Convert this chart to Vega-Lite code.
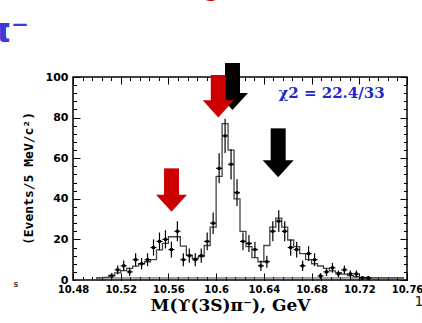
{
  "$schema": "https://vega.github.io/schema/vega-lite/v6.json",
  "width": 334,
  "height": 203,
  "autosize": {"type": "none"},
  "padding": {"left": 73, "top": 77, "right": 15, "bottom": 43},
  "background": "white",
  "config": {
    "view": {"stroke": "black", "strokeWidth": 1.5},
    "axis": {"grid": false, "domain": false, "tickColor": "black", "labelColor": "black", "titleColor": "black", "tickWidth": 1}
  },
  "datasets": {
    "fit": [
      {"m": 10.4825, "fit": 0, "bg": 0}, {"m": 10.4875, "fit": 0, "bg": 0}, {"m": 10.4925, "fit": 0, "bg": 0}, {"m": 10.4975, "fit": 0, "bg": 0},
      {"m": 10.5025, "fit": 1, "bg": 1}, {"m": 10.5075, "fit": 1.3, "bg": 1}, {"m": 10.5125, "fit": 2.3, "bg": 1}, {"m": 10.5175, "fit": 3.5, "bg": 1},
      {"m": 10.5225, "fit": 4.6, "bg": 1}, {"m": 10.5275, "fit": 5.7, "bg": 1}, {"m": 10.5325, "fit": 6.8, "bg": 1}, {"m": 10.5375, "fit": 8, "bg": 1},
      {"m": 10.5425, "fit": 9, "bg": 1}, {"m": 10.5475, "fit": 10, "bg": 1}, {"m": 10.5525, "fit": 14.8, "bg": 1}, {"m": 10.5575, "fit": 18, "bg": 1},
      {"m": 10.5625, "fit": 21.3, "bg": 1}, {"m": 10.5675, "fit": 21.3, "bg": 1}, {"m": 10.5725, "fit": 16.7, "bg": 1}, {"m": 10.5775, "fit": 12.3, "bg": 1},
      {"m": 10.5825, "fit": 10.7, "bg": 1}, {"m": 10.5875, "fit": 11.5, "bg": 1}, {"m": 10.5925, "fit": 17, "bg": 1}, {"m": 10.5975, "fit": 26, "bg": 1},
      {"m": 10.6025, "fit": 51, "bg": 1}, {"m": 10.6075, "fit": 77, "bg": 1}, {"m": 10.6125, "fit": 64, "bg": 1}, {"m": 10.6175, "fit": 40, "bg": 1},
      {"m": 10.6225, "fit": 24, "bg": 1}, {"m": 10.6275, "fit": 16.4, "bg": 1}, {"m": 10.6325, "fit": 11, "bg": 1}, {"m": 10.6375, "fit": 9, "bg": 1},
      {"m": 10.6425, "fit": 17, "bg": 1}, {"m": 10.6475, "fit": 26, "bg": 1}, {"m": 10.6525, "fit": 30.5, "bg": 1}, {"m": 10.6575, "fit": 26, "bg": 1},
      {"m": 10.6625, "fit": 19.7, "bg": 1}, {"m": 10.6675, "fit": 16.4, "bg": 1}, {"m": 10.6725, "fit": 13, "bg": 1}, {"m": 10.6775, "fit": 10, "bg": 1},
      {"m": 10.6825, "fit": 8, "bg": 1}, {"m": 10.6875, "fit": 6.9, "bg": 1}, {"m": 10.6925, "fit": 5.7, "bg": 1}, {"m": 10.6975, "fit": 4.5, "bg": 1},
      {"m": 10.7025, "fit": 3.6, "bg": 1}, {"m": 10.7075, "fit": 2.9, "bg": 1}, {"m": 10.7125, "fit": 2.2, "bg": 1}, {"m": 10.7175, "fit": 1.7, "bg": 1},
      {"m": 10.7225, "fit": 1.3, "bg": 1}, {"m": 10.7275, "fit": 1.1, "bg": 1}, {"m": 10.7325, "fit": 1, "bg": 1}, {"m": 10.7375, "fit": 1, "bg": 1},
      {"m": 10.7425, "fit": 1, "bg": 1}, {"m": 10.7475, "fit": 1, "bg": 1}, {"m": 10.7525, "fit": 1, "bg": 1}, {"m": 10.7575, "fit": 1, "bg": 1}
    ],
    "pts": [
      {"m": 10.5125, "m0": 10.51, "m1": 10.515, "n": 2, "lo": 0.6, "hi": 3.4},
      {"m": 10.5175, "m0": 10.515, "m1": 10.52, "n": 5, "lo": 2.8, "hi": 7.2},
      {"m": 10.5225, "m0": 10.52, "m1": 10.525, "n": 7, "lo": 4.4, "hi": 9.6},
      {"m": 10.5275, "m0": 10.525, "m1": 10.53, "n": 4, "lo": 2, "hi": 6},
      {"m": 10.5325, "m0": 10.53, "m1": 10.535, "n": 10, "lo": 6.8, "hi": 13.2},
      {"m": 10.5375, "m0": 10.535, "m1": 10.54, "n": 8, "lo": 5.2, "hi": 10.8},
      {"m": 10.5425, "m0": 10.54, "m1": 10.545, "n": 10, "lo": 6.8, "hi": 13.2},
      {"m": 10.5475, "m0": 10.545, "m1": 10.55, "n": 16, "lo": 12, "hi": 20},
      {"m": 10.5525, "m0": 10.55, "m1": 10.555, "n": 19, "lo": 14.6, "hi": 23.4},
      {"m": 10.5575, "m0": 10.555, "m1": 10.56, "n": 20, "lo": 15.5, "hi": 24.5},
      {"m": 10.5625, "m0": 10.56, "m1": 10.565, "n": 15, "lo": 11.1, "hi": 18.9},
      {"m": 10.5675, "m0": 10.565, "m1": 10.57, "n": 24, "lo": 19.1, "hi": 28.9},
      {"m": 10.5725, "m0": 10.57, "m1": 10.575, "n": 10, "lo": 6.8, "hi": 13.2},
      {"m": 10.5775, "m0": 10.575, "m1": 10.58, "n": 12, "lo": 8.5, "hi": 15.5},
      {"m": 10.5825, "m0": 10.58, "m1": 10.585, "n": 10, "lo": 6.8, "hi": 13.2},
      {"m": 10.5875, "m0": 10.585, "m1": 10.59, "n": 12, "lo": 8.5, "hi": 15.5},
      {"m": 10.5925, "m0": 10.59, "m1": 10.595, "n": 19, "lo": 14.6, "hi": 23.4},
      {"m": 10.5975, "m0": 10.595, "m1": 10.6, "n": 28, "lo": 22.7, "hi": 33.3},
      {"m": 10.6025, "m0": 10.6, "m1": 10.605, "n": 55, "lo": 47.6, "hi": 62.4},
      {"m": 10.6075, "m0": 10.605, "m1": 10.61, "n": 71, "lo": 62.6, "hi": 79.4},
      {"m": 10.6125, "m0": 10.61, "m1": 10.615, "n": 57, "lo": 49.5, "hi": 64.5},
      {"m": 10.6175, "m0": 10.615, "m1": 10.62, "n": 43, "lo": 36.4, "hi": 49.6},
      {"m": 10.6225, "m0": 10.62, "m1": 10.625, "n": 19, "lo": 14.6, "hi": 23.4},
      {"m": 10.6275, "m0": 10.625, "m1": 10.63, "n": 18, "lo": 13.8, "hi": 22.2},
      {"m": 10.6325, "m0": 10.63, "m1": 10.635, "n": 15, "lo": 11.1, "hi": 18.9},
      {"m": 10.6375, "m0": 10.635, "m1": 10.64, "n": 7, "lo": 4.4, "hi": 9.6},
      {"m": 10.6425, "m0": 10.64, "m1": 10.645, "n": 9, "lo": 6, "hi": 12},
      {"m": 10.6475, "m0": 10.645, "m1": 10.65, "n": 24, "lo": 19.1, "hi": 28.9},
      {"m": 10.6525, "m0": 10.65, "m1": 10.655, "n": 29, "lo": 23.6, "hi": 34.4},
      {"m": 10.6575, "m0": 10.655, "m1": 10.66, "n": 24, "lo": 19.1, "hi": 28.9},
      {"m": 10.6625, "m0": 10.66, "m1": 10.665, "n": 16, "lo": 12, "hi": 20},
      {"m": 10.6675, "m0": 10.665, "m1": 10.67, "n": 15, "lo": 11.1, "hi": 18.9},
      {"m": 10.6725, "m0": 10.67, "m1": 10.675, "n": 7, "lo": 4.4, "hi": 9.6},
      {"m": 10.6775, "m0": 10.675, "m1": 10.68, "n": 13, "lo": 9.4, "hi": 16.6},
      {"m": 10.6825, "m0": 10.68, "m1": 10.685, "n": 10, "lo": 6.8, "hi": 13.2},
      {"m": 10.6875, "m0": 10.685, "m1": 10.69, "n": 2, "lo": 0.6, "hi": 3.4},
      {"m": 10.6925, "m0": 10.69, "m1": 10.695, "n": 4, "lo": 2, "hi": 6},
      {"m": 10.6975, "m0": 10.695, "m1": 10.7, "n": 6, "lo": 3.6, "hi": 8.4},
      {"m": 10.7025, "m0": 10.7, "m1": 10.705, "n": 3, "lo": 1.3, "hi": 4.7},
      {"m": 10.7075, "m0": 10.705, "m1": 10.71, "n": 5, "lo": 2.8, "hi": 7.2},
      {"m": 10.7125, "m0": 10.71, "m1": 10.715, "n": 3, "lo": 1.3, "hi": 4.7},
      {"m": 10.7175, "m0": 10.715, "m1": 10.72, "n": 3, "lo": 1.3, "hi": 4.7},
      {"m": 10.7225, "m0": 10.72, "m1": 10.725, "n": 1, "lo": 0, "hi": 2},
      {"m": 10.7275, "m0": 10.725, "m1": 10.73, "n": 1, "lo": 0, "hi": 2}
    ],
    "arrows": [
      {"g": "black", "m": 10.6137, "top": 106.9, "hd": 89, "tip": 83.7},
      {"g": "black", "m": 10.652, "top": 74.7, "hd": 56.3, "tip": 50.6},
      {"g": "red", "m": 10.5626, "top": 55, "hd": 40, "tip": 33.6},
      {"g": "red", "m": 10.6018, "top": 101, "hd": 86, "tip": 80.1}
    ],
    "chi": [{"m": 10.6967, "v": 92, "t": "χ2 = 22.4/33"}],
    "pi": [{"m": 10.4431, "v": 122, "t": "π⁻"}],
    "page": [{"m": 10.77, "v": -11, "t": "1"}],
    "frag": [{"m": 10.4322, "v": -2.5, "t": "s"}],
    "topred": [
      {"m": 10.5726, "v": 139.2, "t": "("},
      {"m": 10.5965, "v": 139.2, "t": "g"},
      {"m": 10.633, "v": 139.2, "t": ")"}
    ]
  },
  "resolve": {"axis": {"x": "independent", "y": "independent"}},
  "layer": [
    {
      "data": {"name": "fit"},
      "mark": {"type": "line", "interpolate": "step", "color": "#444444", "strokeWidth": 1.3},
      "encoding": {
        "x": {"field": "m", "type": "quantitative",
          "scale": {"domain": [10.48, 10.76], "nice": false, "zero": false},
          "axis": {"orient": "bottom", "values": [10.48, 10.52, 10.56, 10.6, 10.64, 10.68, 10.72, 10.76], "format": "~g",
            "labelFont": "DejaVu Sans", "labelFontWeight": "bold", "labelFontSize": 10, "labelPadding": 11, "labelFlush": false,
            "tickSize": -7,
            "title": "M(ϒ(3S)π⁻), GeV", "titleFont": "DejaVu Serif", "titleFontWeight": "bold", "titleFontSize": 17,
            "titleX": 157, "titleY": 30, "titleAlign": "center", "titleBaseline": "alphabetic"}},
        "y": {"field": "fit", "type": "quantitative",
          "scale": {"domain": [0, 100], "nice": false, "zero": false},
          "axis": {"orient": "left", "values": [0, 20, 40, 60, 80, 100],
            "labelFont": "DejaVu Sans", "labelFontWeight": "bold", "labelFontSize": 11, "labelPadding": 12,
            "tickSize": -7,
            "title": "(Events/5 MeV/c²)", "titleFont": "DejaVu Sans Mono", "titleFontWeight": "bold", "titleFontSize": 13,
            "titleX": -45, "titleY": 101, "titleAngle": -90, "titleAlign": "center", "titleBaseline": "middle"}}
      }
    },
    {
      "data": {"name": "fit"},
      "mark": {"type": "line", "interpolate": "step", "color": "#444444", "strokeWidth": 1},
      "encoding": {
        "x": {"field": "m", "type": "quantitative",
          "axis": {"orient": "bottom", "labels": false, "tickSize": -3.5, "title": null,
            "values": [10.48, 10.488, 10.496, 10.504, 10.512, 10.52, 10.528, 10.536, 10.544, 10.552, 10.56, 10.568, 10.576, 10.584, 10.592, 10.6, 10.608, 10.616, 10.624, 10.632, 10.64, 10.648, 10.656, 10.664, 10.672, 10.68, 10.688, 10.696, 10.704, 10.712, 10.72, 10.728, 10.736, 10.744, 10.752, 10.76]}},
        "y": {"field": "bg", "type": "quantitative",
          "axis": {"orient": "left", "labels": false, "tickSize": -3.5, "title": null,
            "values": [0, 4, 8, 12, 16, 20, 24, 28, 32, 36, 40, 44, 48, 52, 56, 60, 64, 68, 72, 76, 80, 84, 88, 92, 96, 100]}}
      }
    },
    {
      "data": {"name": "pts"},
      "mark": {"type": "rule", "color": "black", "strokeWidth": 1.2},
      "encoding": {
        "x": {"field": "m", "type": "quantitative",
          "axis": {"orient": "top", "labels": false, "tickSize": -7, "title": null, "values": [10.48, 10.52, 10.56, 10.6, 10.64, 10.68, 10.72, 10.76]}},
        "y": {"field": "lo", "type": "quantitative",
          "axis": {"orient": "right", "labels": false, "tickSize": -7, "title": null, "values": [0, 20, 40, 60, 80, 100]}},
        "y2": {"field": "hi"}
      }
    },
    {
      "data": {"name": "pts"},
      "mark": {"type": "rule", "color": "black", "strokeWidth": 1.2},
      "encoding": {
        "x": {"field": "m0", "type": "quantitative",
          "axis": {"orient": "top", "labels": false, "tickSize": -3.5, "title": null,
            "values": [10.48, 10.488, 10.496, 10.504, 10.512, 10.52, 10.528, 10.536, 10.544, 10.552, 10.56, 10.568, 10.576, 10.584, 10.592, 10.6, 10.608, 10.616, 10.624, 10.632, 10.64, 10.648, 10.656, 10.664, 10.672, 10.68, 10.688, 10.696, 10.704, 10.712, 10.72, 10.728, 10.736, 10.744, 10.752, 10.76]}},
        "x2": {"field": "m1"},
        "y": {"field": "n", "type": "quantitative",
          "axis": {"orient": "right", "labels": false, "tickSize": -3.5, "title": null,
            "values": [0, 4, 8, 12, 16, 20, 24, 28, 32, 36, 40, 44, 48, 52, 56, 60, 64, 68, 72, 76, 80, 84, 88, 92, 96, 100]}}
      }
    },
    {
      "data": {"name": "pts"},
      "mark": {"type": "square", "color": "black", "size": 9, "opacity": 1},
      "encoding": {
        "x": {"field": "m", "type": "quantitative", "axis": null},
        "y": {"field": "n", "type": "quantitative", "axis": null}
      }
    },
    {
      "data": {"name": "arrows"},
      "transform": [{"filter": "datum.g == 'black'"}],
      "mark": {"type": "rule", "strokeWidth": 15, "strokeCap": "butt", "color": "#000000"},
      "encoding": {
        "x": {"field": "m", "type": "quantitative", "axis": null},
        "y": {"field": "top", "type": "quantitative", "axis": null},
        "y2": {"field": "hd"}
      }
    },
    {
      "data": {"name": "arrows"},
      "transform": [{"filter": "datum.g == 'black'"}],
      "mark": {"type": "point", "shape": "M-1,-1.1L1,-1.1L0,0Z", "size": 961, "filled": true, "opacity": 1, "strokeWidth": 0, "color": "#000000"},
      "encoding": {
        "x": {"field": "m", "type": "quantitative", "axis": null},
        "y": {"field": "tip", "type": "quantitative", "axis": null}
      }
    },
    {
      "data": {"name": "arrows"},
      "transform": [{"filter": "datum.g == 'red'"}],
      "mark": {"type": "rule", "strokeWidth": 15, "strokeCap": "butt", "color": "#cc0000"},
      "encoding": {
        "x": {"field": "m", "type": "quantitative", "axis": null},
        "y": {"field": "top", "type": "quantitative", "axis": null},
        "y2": {"field": "hd"}
      }
    },
    {
      "data": {"name": "arrows"},
      "transform": [{"filter": "datum.g == 'red'"}],
      "mark": {"type": "point", "shape": "M-1,-1.1L1,-1.1L0,0Z", "size": 961, "filled": true, "opacity": 1, "strokeWidth": 0, "color": "#cc0000"},
      "encoding": {
        "x": {"field": "m", "type": "quantitative", "axis": null},
        "y": {"field": "tip", "type": "quantitative", "axis": null}
      }
    },
    {
      "data": {"name": "chi"},
      "mark": {"type": "text", "font": "DejaVu Serif", "fontWeight": "bold", "fontSize": 15, "color": "#2424d0", "align": "center", "baseline": "middle"},
      "encoding": {
        "x": {"field": "m", "type": "quantitative", "axis": null},
        "y": {"field": "v", "type": "quantitative", "axis": null},
        "text": {"field": "t"}
      }
    },
    {
      "data": {"name": "pi"},
      "mark": {"type": "text", "font": "DejaVu Sans", "fontWeight": "bold", "fontSize": 34, "color": "#3a3ad6", "align": "right", "baseline": "middle"},
      "encoding": {
        "x": {"field": "m", "type": "quantitative", "axis": null},
        "y": {"field": "v", "type": "quantitative", "axis": null},
        "text": {"field": "t"}
      }
    },
    {
      "data": {"name": "page"},
      "mark": {"type": "text", "font": "DejaVu Sans", "fontSize": 14, "color": "#222222", "align": "center", "baseline": "middle"},
      "encoding": {
        "x": {"field": "m", "type": "quantitative", "axis": null},
        "y": {"field": "v", "type": "quantitative", "axis": null},
        "text": {"field": "t"}
      }
    },
    {
      "data": {"name": "frag"},
      "mark": {"type": "text", "font": "DejaVu Sans", "fontWeight": "bold", "fontSize": 8, "color": "#444444", "align": "center", "baseline": "middle"},
      "encoding": {
        "x": {"field": "m", "type": "quantitative", "axis": null},
        "y": {"field": "v", "type": "quantitative", "axis": null},
        "text": {"field": "t"}
      }
    },
    {
      "data": {"name": "topred"},
      "mark": {"type": "text", "font": "DejaVu Sans", "fontWeight": "bold", "fontSize": 22, "color": "#dd0000", "align": "center", "baseline": "alphabetic"},
      "encoding": {
        "x": {"field": "m", "type": "quantitative", "axis": null},
        "y": {"field": "v", "type": "quantitative", "axis": null},
        "text": {"field": "t"}
      }
    }
  ]
}
